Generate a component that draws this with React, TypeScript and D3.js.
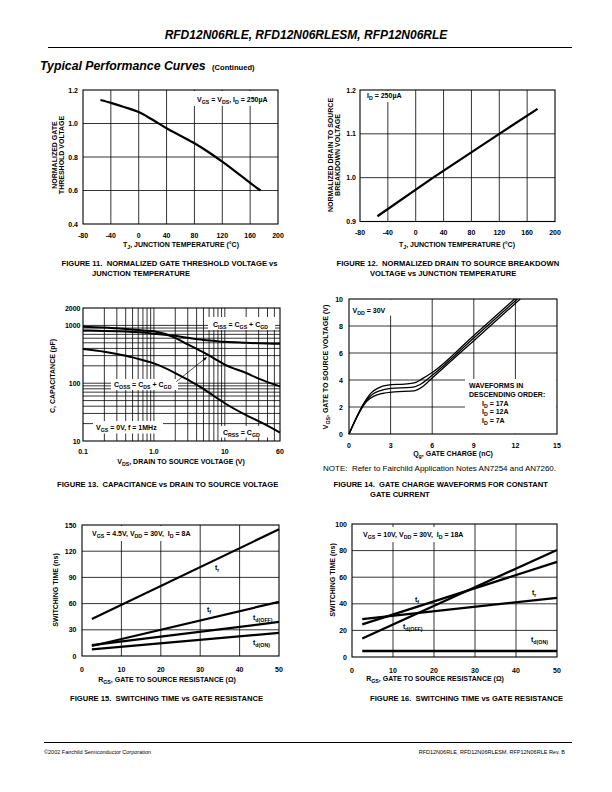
import React from "react";
import * as d3 from "d3";

const FONT = "'Liberation Sans', Arial, Helvetica, sans-serif";

// ---------- Figure 11 ----------
const fig11Temp = [-55, -40, -20, 0, 20, 40, 60, 80, 100, 120, 140, 160, 175];
const fig11Vth = [1.14, 1.123, 1.097, 1.068, 1.022, 0.972, 0.927, 0.882, 0.83, 0.772, 0.71, 0.645, 0.6];
const tempTicks = [-80, -40, 0, 40, 80, 120, 160, 200];
const fig11YTicks = [0.4, 0.6, 0.8, 1.0, 1.2];

// ---------- Figure 12 ----------
const fig12Temp = [-55, 25, 120, 175];
const fig12BV = [0.912, 1.0, 1.1, 1.157];
const fig12YTicks = [0.9, 1.0, 1.1, 1.2];

// ---------- Figure 13 ----------
const fig13Vds = [0.1, 0.2, 0.3, 0.5, 0.7, 1, 2, 3, 5, 7, 10, 20, 30, 60];
const fig13Ciss = [820, 800, 790, 770, 750, 720, 660, 610, 560, 540, 520, 500, 490, 480];
const fig13Coss = [950, 920, 890, 850, 820, 790, 610, 470, 340, 270, 210, 150, 120, 88];
const fig13Crss = [390, 350, 320, 280, 250, 220, 150, 115, 80, 60, 45, 28, 22, 14];
const fig13XTicks = [0.1, 1, 10, 60];
const fig13XLabels = ["0.1", "1.0", "10", "60"];
const fig13YTicks = [10, 100, 1000, 2000];
const fig13YLabels = ["10", "100", "1000", "2000"];

// ---------- Figure 14 ----------
const fig14Q17 = [0, 1.2, 1.6, 2.1, 2.8, 4.0, 4.7, 5.3, 6.0, 9.0, 11.95];
const fig14V17 = [0, 2.5, 3.05, 3.4, 3.62, 3.7, 3.78, 4.1, 4.55, 7.3, 10];
const fig14Q12 = [0, 1.25, 1.7, 2.2, 3.0, 4.5, 5.1, 6.0, 9.0, 12.15];
const fig14V12 = [0, 2.5, 2.95, 3.2, 3.38, 3.45, 3.65, 4.35, 7.11, 10];
const fig14Q7 = [0, 1.3, 1.8, 2.4, 3.3, 4.7, 5.3, 6.0, 9.0, 12.35];
const fig14V7 = [0, 2.45, 2.8, 3.0, 3.12, 3.2, 3.5, 4.15, 6.91, 10];
const fig14XTicks = [0, 3, 6, 9, 12, 15];
const fig14YTicks = [0, 2, 4, 6, 8, 10];

// ---------- Figure 15 ----------
const fig15Rgs = [2.5, 50];
const fig15Tr = [42.5, 145];
const fig15Tf = [11.5, 62];
const fig15TdOff = [12.5, 39];
const fig15TdOn = [7.5, 26.5];
const rgsTicks = [0, 10, 20, 30, 40, 50];
const fig15YTicks = [0, 30, 60, 90, 120, 150];

// ---------- Figure 16 ----------
const fig16Rgs = [2.5, 50];
const fig16Tr = [28.5, 44.5];
const fig16Tf = [24.5, 71.5];
const fig16TdOff = [14, 80.5];
const fig16TdOn = [4.5, 4.5];
const fig16YTicks = [0, 20, 40, 60, 80, 100];

// ---------- helpers ----------
type Seg = { t: string; sub: boolean };
function parse(s: string): Seg[] {
  const out: Seg[] = [];
  const re = /_\{([^}]*)\}/g;
  let last = 0;
  let m: RegExpExecArray | null;
  while ((m = re.exec(s))) {
    if (m.index > last) out.push({ t: s.slice(last, m.index), sub: false });
    out.push({ t: m[1], sub: true });
    last = m.index + m[0].length;
  }
  if (last < s.length) out.push({ t: s.slice(last), sub: false });
  return out;
}

function RText(props: {
  x: number; y: number; text: string; size?: number; anchor?: string;
  weight?: string; rotate?: boolean; italic?: boolean;
}) {
  const size = props.size ?? 7;
  const segs = parse(props.text);
  const shift = size * 0.3;
  let cur = 0;
  const spans = segs.map((s, i) => {
    const target = s.sub ? shift : 0;
    const dy = target - cur;
    cur = target;
    return (
      <tspan key={i} dy={dy} fontSize={s.sub ? size * 0.75 : size}>
        {s.t}
      </tspan>
    );
  });
  const rot = props.rotate;
  return (
    <text
      x={rot ? 0 : props.x}
      y={rot ? 0 : props.y}
      transform={rot ? `translate(${props.x},${props.y}) rotate(-90)` : undefined}
      textAnchor={(props.anchor as any) ?? "start"}
      fontWeight={props.weight ?? "bold"}
      fontStyle={props.italic ? "italic" : "normal"}
      fontSize={size}
      fontFamily={FONT}
      fill="#000"
      style={{ whiteSpace: "pre" }}
    >
      {spans}
    </text>
  );
}

type Box = { l: number; r: number; t: number; b: number };
type Bg = { x: number; y: number; w: number; h: number };

function Chart(props: {
  box: Box; xs: any; ys: any; xGrid: number[]; yGrid: number[];
  xTicks: number[]; xLabels: string[]; yTicks: number[]; yLabels: string[];
  xLabelY: number; yLabelX: number; bgs?: Bg[]; children?: React.ReactNode;
}) {
  const { box, xs, ys } = props;
  const fs = 7;
  return (
    <g>
      {props.xGrid.map((v, i) => (
        <line key={"xg" + i} x1={xs(v)} x2={xs(v)} y1={box.t} y2={box.b} stroke="#000" strokeWidth={0.8} />
      ))}
      {props.yGrid.map((v, i) => (
        <line key={"yg" + i} x1={box.l} x2={box.r} y1={ys(v)} y2={ys(v)} stroke="#000" strokeWidth={0.8} />
      ))}
      {(props.bgs || []).map((b, i) => (
        <rect key={"bg" + i} x={b.x} y={b.y} width={b.w} height={b.h} fill="#fff" />
      ))}
      {props.children}
      <rect x={box.l} y={box.t} width={box.r - box.l} height={box.b - box.t} fill="none" stroke="#000" strokeWidth={1.1} />
      {props.xTicks.map((v, i) => (
        <text key={"xt" + i} x={xs(v)} y={props.xLabelY} textAnchor="middle" fontSize={fs} fontWeight="bold" fontFamily={FONT}>
          {props.xLabels[i]}
        </text>
      ))}
      {props.yTicks.map((v, i) => (
        <text key={"yt" + i} x={props.yLabelX} y={ys(v) + fs * 0.36} textAnchor="end" fontSize={fs} fontWeight="bold" fontFamily={FONT}>
          {props.yLabels[i]}
        </text>
      ))}
    </g>
  );
}

function pathOf(xsArr: number[], ysArr: number[], xs: any, ys: any, curve: any = d3.curveLinear) {
  const pts = xsArr.map((x, i) => [x, ysArr[i]] as [number, number]);
  return d3.line<[number, number]>().x((d) => xs(d[0])).y((d) => ys(d[1])).curve(curve)(pts) || "";
}

const f1 = d3.format(".1f");
const f0 = d3.format("d");

export default function App() {
  // Fig 11
  const b11: Box = { l: 83, r: 278, t: 90, b: 224 };
  const x11 = d3.scaleLinear().domain([-80, 200]).range([b11.l, b11.r]);
  const y11 = d3.scaleLinear().domain([0.4, 1.2]).range([b11.b, b11.t]);
  // Fig 12
  const b12: Box = { l: 360, r: 555, t: 90, b: 221.5 };
  const x12 = d3.scaleLinear().domain([-80, 200]).range([b12.l, b12.r]);
  const y12 = d3.scaleLinear().domain([0.9, 1.2]).range([b12.b, b12.t]);
  // Fig 13
  const b13: Box = { l: 83, r: 280, t: 308, b: 441 };
  const x13 = d3.scaleLog().domain([0.1, 60]).range([b13.l, b13.r]);
  const y13 = d3.scaleLog().domain([10, 2000]).range([b13.b, b13.t]);
  // Fig 14
  const b14: Box = { l: 349, r: 557, t: 299, b: 434 };
  const x14 = d3.scaleLinear().domain([0, 15]).range([b14.l, b14.r]);
  const y14 = d3.scaleLinear().domain([0, 10]).range([b14.b, b14.t]);
  // Fig 15
  const b15: Box = { l: 82, r: 279, t: 525, b: 656 };
  const x15 = d3.scaleLinear().domain([0, 50]).range([b15.l, b15.r]);
  const y15 = d3.scaleLinear().domain([0, 150]).range([b15.b, b15.t]);
  // Fig 16
  const b16: Box = { l: 352, r: 557, t: 524, b: 657 };
  const x16 = d3.scaleLinear().domain([0, 50]).range([b16.l, b16.r]);
  const y16 = d3.scaleLinear().domain([0, 100]).range([b16.b, b16.t]);

  const inner = (a: number[]) => a.slice(1, -1);
  const curveW = 2.2;

  const logXGrid = x13.ticks().filter((v: number) => v > 0.1 && v < 60);
  const logYGrid = y13.ticks().filter((v: number) => v > 10 && v < 2000);

  // arrow for Coss label
  const ax1 = 176.5, ay1 = 381.5, ax2 = 207, ay2 = 357;
  const ang = Math.atan2(ay2 - ay1, ax2 - ax1);
  const ah = 4, aw = 1.6;
  const arrowPts = [
    [ax2, ay2],
    [ax2 - ah * Math.cos(ang) + aw * Math.sin(ang), ay2 - ah * Math.sin(ang) - aw * Math.cos(ang)],
    [ax2 - ah * Math.cos(ang) - aw * Math.sin(ang), ay2 - ah * Math.sin(ang) + aw * Math.cos(ang)],
  ].map((p) => p.join(",")).join(" ");

  const cap = 7.6;

  return (
    <svg width={612} height={792} viewBox="0 0 612 792" style={{ position: "absolute", left: 0, top: 0, display: "block", background: "#fff" }}>
      <rect x={0} y={0} width={612} height={792} fill="#fff" />
      {/* Header */}
      <RText x={306} y={38.5} text="RFD12N06RLE, RFD12N06RLESM, RFP12N06RLE" size={12} anchor="middle" italic />
      <line x1={48} x2={572} y1={47.5} y2={47.5} stroke="#000" strokeWidth={1} />
      <RText x={40} y={70} text="Typical Performance Curves" size={12.3} italic />
      <RText x={212} y={69.5} text="(Continued)" size={7.6} />

      {/* Figure 11 */}
      <Chart box={b11} xs={x11} ys={y11} xGrid={inner(tempTicks)} yGrid={inner(fig11YTicks)}
        xTicks={tempTicks} xLabels={tempTicks.map(String)} yTicks={fig11YTicks} yLabels={fig11YTicks.map(f1)}
        xLabelY={237.5} yLabelX={78}
        bgs={[{ x: 192, y: 91, w: 85, h: 15 }]}>
        <path d={pathOf(fig11Temp, fig11Vth, x11, y11, d3.curveMonotoneX)} fill="none" stroke="#000" strokeWidth={curveW} />
        <RText x={197} y={101.5} text="V_{GS} = V_{DS}, I_{D} = 250µA" size={7} />
      </Chart>
      <RText x={181} y={247} text="T_{J}, JUNCTION TEMPERATURE (°C)" anchor="middle" />
      <RText x={56.5} y={155} text="NORMALIZED GATE" anchor="middle" rotate />
      <RText x={63.5} y={155} text="THRESHOLD VOLTAGE" anchor="middle" rotate />
      <RText x={61.5} y={265.5} text="FIGURE 11.  NORMALIZED GATE THRESHOLD VOLTAGE vs" size={cap} />
      <RText x={92} y={275.5} text="JUNCTION TEMPERATURE" size={cap} />

      {/* Figure 12 */}
      <Chart box={b12} xs={x12} ys={y12} xGrid={inner(tempTicks)} yGrid={inner(fig12YTicks)}
        xTicks={tempTicks} xLabels={tempTicks.map(String)} yTicks={fig12YTicks} yLabels={fig12YTicks.map(f1)}
        xLabelY={234.5} yLabelX={356}
        bgs={[{ x: 361, y: 91, w: 46, h: 11 }]}>
        <path d={pathOf(fig12Temp, fig12BV, x12, y12)} fill="none" stroke="#000" strokeWidth={curveW} />
        <RText x={367} y={97.5} text="I_{D} = 250µA" size={7} />
      </Chart>
      <RText x={457} y={247} text="T_{J}, JUNCTION TEMPERATURE (°C)" anchor="middle" />
      <RText x={333} y={155} text="NORMALIZED DRAIN TO SOURCE" anchor="middle" rotate />
      <RText x={340} y={155} text="BREAKDOWN VOLTAGE" anchor="middle" rotate />
      <RText x={336.5} y={265.5} text="FIGURE 12.  NORMALIZED DRAIN TO SOURCE BREAKDOWN" size={cap} />
      <RText x={370} y={275.5} text="VOLTAGE vs JUNCTION TEMPERATURE" size={cap} />

      {/* Figure 13 */}
      <Chart box={b13} xs={x13} ys={y13} xGrid={logXGrid} yGrid={logYGrid}
        xTicks={fig13XTicks} xLabels={fig13XLabels} yTicks={fig13YTicks} yLabels={fig13YLabels}
        xLabelY={453.5} yLabelX={80.5}
        bgs={[
          { x: 208, y: 317, w: 67, h: 13 },
          { x: 111, y: 379, w: 67, h: 11 },
          { x: 93, y: 421, w: 70, h: 12.5 },
          { x: 220, y: 426, w: 48, h: 11.5 },
        ]}>
        <path d={pathOf(fig13Vds, fig13Ciss, x13, y13, d3.curveMonotoneX)} fill="none" stroke="#000" strokeWidth={2} />
        <path d={pathOf(fig13Vds, fig13Coss, x13, y13, d3.curveMonotoneX)} fill="none" stroke="#000" strokeWidth={2} />
        <path d={pathOf(fig13Vds, fig13Crss, x13, y13, d3.curveMonotoneX)} fill="none" stroke="#000" strokeWidth={2} />
        <RText x={213} y={326.5} text="C_{ISS} = C_{GS} + C_{GD}" size={7} />
        <RText x={114} y={387} text="C_{OSS} = C_{DS} + C_{GD}" size={7} />
        <RText x={96} y={430} text="V_{GS} = 0V, f = 1MHz" size={7} />
        <RText x={223} y={434.5} text="C_{RSS} = C_{GD}" size={7} />
        <line x1={ax1} y1={ay1} x2={ax2 - 3 * Math.cos(ang)} y2={ay2 - 3 * Math.sin(ang)} stroke="#000" strokeWidth={0.7} />
        <polygon points={arrowPts} fill="#000" />
      </Chart>
      <RText x={181} y={464} text="V_{DS}, DRAIN TO SOURCE VOLTAGE (V)" anchor="middle" />
      <RText x={54.5} y={376} text="C, CAPACITANCE (pF)" anchor="middle" rotate />
      <RText x={57} y={487} text="FIGURE 13.  CAPACITANCE vs DRAIN TO SOURCE VOLTAGE" size={cap} />

      {/* Figure 14 */}
      <Chart box={b14} xs={x14} ys={y14} xGrid={inner(fig14XTicks)} yGrid={inner(fig14YTicks)}
        xTicks={fig14XTicks} xLabels={fig14XTicks.map(f0)} yTicks={fig14YTicks} yLabels={fig14YTicks.map(f0)}
        xLabelY={447.5} yLabelX={343}
        bgs={[{ x: 349.5, y: 299.5, w: 43, h: 16 }, { x: 465, y: 379, w: 91.5, h: 54.5 }]}>
        <path d={pathOf(fig14Q17, fig14V17, x14, y14, d3.curveMonotoneX)} fill="none" stroke="#000" strokeWidth={1.3} />
        <path d={pathOf(fig14Q12, fig14V12, x14, y14, d3.curveMonotoneX)} fill="none" stroke="#000" strokeWidth={1.3} />
        <path d={pathOf(fig14Q7, fig14V7, x14, y14, d3.curveMonotoneX)} fill="none" stroke="#000" strokeWidth={1.3} />
        <RText x={352.5} y={312.5} text="V_{DD} = 30V" size={7} />
        <RText x={469} y={387.5} text="WAVEFORMS IN" size={7} />
        <RText x={469} y={396.5} text="DESCENDING ORDER:" size={7} />
        <RText x={482} y={405.5} text="I_{D} = 17A" size={7} />
        <RText x={482} y={414} text="I_{D} = 12A" size={7} />
        <RText x={482} y={422.5} text="I_{D} = 7A" size={7} />
      </Chart>
      <RText x={453} y={456} text="Q_{g}, GATE CHARGE (nC)" anchor="middle" />
      <RText x={328} y={367} text="V_{GS}, GATE TO SOURCE VOLTAGE (V)" anchor="middle" rotate />
      <RText x={323} y={471} text="NOTE:  Refer to Fairchild Application Notes AN7254 and AN7260." size={8} weight="normal" />
      <RText x={333.5} y={487} text="FIGURE 14.  GATE CHARGE WAVEFORMS FOR CONSTANT" size={cap} />
      <RText x={370} y={496.5} text="GATE CURRENT" size={cap} />

      {/* Figure 15 */}
      <Chart box={b15} xs={x15} ys={y15} xGrid={inner(rgsTicks)} yGrid={inner(fig15YTicks)}
        xTicks={rgsTicks} xLabels={rgsTicks.map(f0)} yTicks={fig15YTicks} yLabels={fig15YTicks.map(f0)}
        xLabelY={671.5} yLabelX={76.5}
        bgs={[{ x: 85, y: 526, w: 112, h: 15 }]}>
        <path d={pathOf(fig15Rgs, fig15Tr, x15, y15)} fill="none" stroke="#000" strokeWidth={curveW} />
        <path d={pathOf(fig15Rgs, fig15Tf, x15, y15)} fill="none" stroke="#000" strokeWidth={curveW} />
        <path d={pathOf(fig15Rgs, fig15TdOff, x15, y15)} fill="none" stroke="#000" strokeWidth={curveW} />
        <path d={pathOf(fig15Rgs, fig15TdOn, x15, y15)} fill="none" stroke="#000" strokeWidth={curveW} />
        <RText x={92} y={535.5} text="V_{GS} = 4.5V, V_{DD} = 30V,  I_{D} = 8A" size={7} />
        <RText x={215} y={569.5} text="t_{r}" size={7} />
        <RText x={207} y={612} text="t_{f}" size={7} />
        <RText x={253} y={619.5} text="t_{d(OFF)}" size={7} />
        <RText x={253} y={645} text="t_{d(ON)}" size={7} />
      </Chart>
      <RText x={167} y={682} text="R_{GS}, GATE TO SOURCE RESISTANCE (Ω)" anchor="middle" />
      <RText x={58} y={590} text="SWITCHING TIME (ns)" anchor="middle" rotate />
      <RText x={70} y={700.5} text="FIGURE 15.  SWITCHING TIME vs GATE RESISTANCE" size={cap} />

      {/* Figure 16 */}
      <Chart box={b16} xs={x16} ys={y16} xGrid={inner(rgsTicks)} yGrid={inner(fig16YTicks)}
        xTicks={rgsTicks} xLabels={rgsTicks.map(f0)} yTicks={fig16YTicks} yLabels={fig16YTicks.map(f0)}
        xLabelY={672.5} yLabelX={347}
        bgs={[{ x: 356, y: 527, w: 116, h: 15 }]}>
        <path d={pathOf(fig16Rgs, fig16Tr, x16, y16)} fill="none" stroke="#000" strokeWidth={curveW} />
        <path d={pathOf(fig16Rgs, fig16Tf, x16, y16)} fill="none" stroke="#000" strokeWidth={curveW} />
        <path d={pathOf(fig16Rgs, fig16TdOff, x16, y16)} fill="none" stroke="#000" strokeWidth={curveW} />
        <path d={pathOf(fig16Rgs, fig16TdOn, x16, y16)} fill="none" stroke="#000" strokeWidth={2.6} />
        <RText x={363} y={536.5} text="V_{GS} = 10V, V_{DD} = 30V,  I_{D} = 18A" size={7} />
        <RText x={415} y={602} text="t_{f}" size={7} />
        <RText x={532} y={595} text="t_{r}" size={7} />
        <RText x={403} y={629} text="t_{d(OFF)}" size={7} />
        <RText x={531} y={642} text="t_{d(ON)}" size={7} />
      </Chart>
      <RText x={435} y={681} text="R_{GS}, GATE TO SOURCE RESISTANCE (Ω)" anchor="middle" />
      <RText x={334.5} y={580} text="SWITCHING TIME (ns)" anchor="middle" rotate />
      <RText x={370} y={700.5} text="FIGURE 16.  SWITCHING TIME vs GATE RESISTANCE" size={cap} />

      {/* Footer */}
      <line x1={44} x2={572} y1={742.5} y2={742.5} stroke="#000" strokeWidth={1} />
      <RText x={44} y={754} text="©2002 Fairchild Semiconductor Corporation" size={5.5} weight="normal" />
      <RText x={565} y={754} text="RFD12N06RLE, RFD12N06RLESM, RFP12N06RLE Rev. B" size={5.5} weight="normal" anchor="end" />
    </svg>
  );
}
